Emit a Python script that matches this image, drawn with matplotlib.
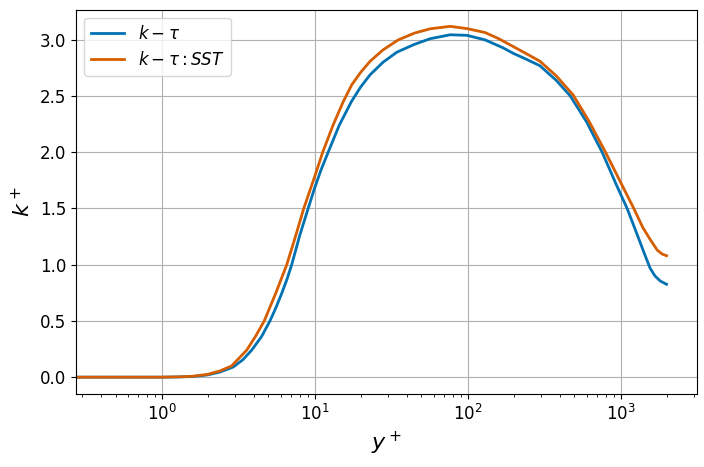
import numpy as np
import matplotlib
matplotlib.use("Agg")
import matplotlib.pyplot as plt

# values (y+ vs k+)
yplus_kt = [0.2, 1.0, 1.3, 1.6, 2.0, 2.4, 2.94, 3.4, 3.88, 4.5, 5.11, 5.6, 6.1, 6.6,
            7.09, 8.0, 9.08, 10.0, 11.0, 12.27, 14.5, 17.4, 20.0, 23.1, 28.0, 34.5,
            45.0, 57.0, 77.0, 99.0, 130.0, 170.0, 199.0, 240.0, 297.0, 380.0, 470.0,
            600.0, 759.0, 940.0, 1105.0, 1300.0, 1450.0, 1560.0, 1680.0, 1820.0, 2000.0]
kplus_kt = [0.0, 0.0, 0.002, 0.006, 0.02, 0.045, 0.09, 0.155, 0.24, 0.36, 0.5, 0.62, 0.745, 0.87,
            1.0, 1.26, 1.5, 1.68, 1.84, 2.0, 2.24, 2.45, 2.58, 2.69, 2.8, 2.89,
            2.96, 3.01, 3.045, 3.04, 3.0, 2.93, 2.88, 2.83, 2.77, 2.64, 2.5,
            2.27, 2.0, 1.71, 1.5, 1.25, 1.08, 0.97, 0.9, 0.855, 0.826]

yplus_sst = [0.2, 1.0, 1.3, 1.6, 2.0, 2.4, 2.87, 3.6, 4.1, 4.69, 5.57, 6.58, 7.5, 8.5,
             10.0, 11.3, 13.2, 15.4, 17.5, 20.0, 23.1, 28.0, 35.3, 45.0, 57.0, 77.0, 99.0,
             130.0, 160.0, 199.0, 240.0, 297.0, 380.0, 490.0, 620.0, 798.0, 1000.0,
             1221.0, 1400.0, 1570.0, 1738.0, 1870.0, 2000.0]
kplus_sst = [0.0, 0.0, 0.003, 0.008, 0.025, 0.055, 0.1, 0.24, 0.36, 0.5, 0.745, 1.0, 1.25, 1.5,
             1.78, 2.0, 2.24, 2.45, 2.6, 2.71, 2.81, 2.91, 3.0, 3.06, 3.098, 3.12, 3.10,
             3.065, 3.01, 2.94, 2.88, 2.81, 2.68, 2.51, 2.28, 2.0, 1.735,
             1.5, 1.33, 1.22, 1.13, 1.095, 1.08]

fig = plt.figure(figsize=(7.04, 4.67), dpi=100)
ax = fig.add_axes([0.108, 0.156, 0.882, 0.823])

ax.plot(yplus_kt, kplus_kt, color="#0072B2", lw=2, label=r"$k-\tau$")
ax.plot(yplus_sst, kplus_sst, color="#D55E00", lw=2, label=r"$k-\tau:SST$")

ax.set_xscale("log")
ax.set_xlim(0.276, 3160)
ax.set_ylim(-0.151, 3.267)
ax.set_xlabel(r"$y^+$", fontsize=16)
ax.set_ylabel(r"$k^+$", fontsize=16)
ax.tick_params(labelsize=12)
ax.grid(True)
ax.legend(loc="upper left", fontsize=12)

fig.savefig("out.png", dpi=100)
